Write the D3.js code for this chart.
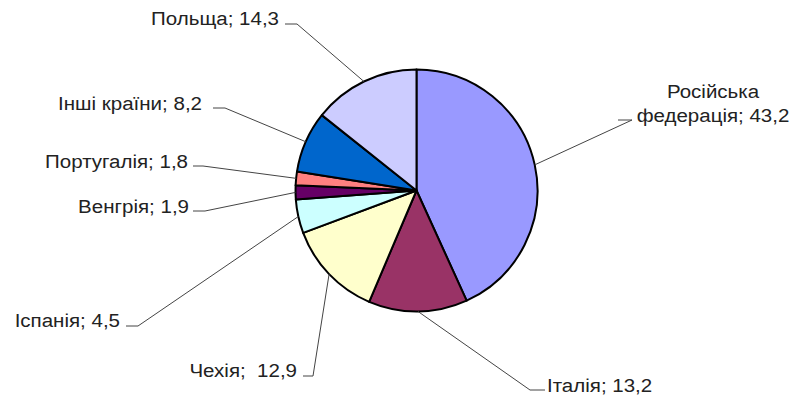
<!DOCTYPE html>
<html><head><meta charset="utf-8">
<script src="https://cdn.jsdelivr.net/npm/d3@7"></script>
<style>
html,body{margin:0;padding:0;background:#fff;}
svg{display:block;}
text{font-family:"Liberation Sans",Arial,sans-serif;font-size:19px;fill:#222;}
</style></head>
<body>
<svg id="chart" width="795" height="400"></svg>
<script>
// Data
const countries = ["Російська федерація","Італія","Чехія","Іспанія","Венгрія","Португалія","Інші країни","Польща"];
const values = [43.2, 13.2, 12.9, 4.5, 1.9, 1.8, 8.2, 14.3];
const labelTexts = [["Російська","федерація; 43,2"],["Італія; 13,2"],["Чехія;  12,9"],["Іспанія; 4,5"],["Венгрія; 1,9"],["Португалія; 1,8"],["Інші країни; 8,2"],["Польща; 14,3"]];
const colors = ["#9999FF","#993366","#FFFFCC","#CCFFFF","#660066","#FF8080","#0066CC","#CCCCFF"];

// Layout (label placement: elbow x,y, text anchor)
const labelLayout = [
  {ex:632, ey:120, hx:618, tx:713, ty:122, anchor:"middle"},
  {ex:530, ey:390, hx:545, tx:547, ty:392, anchor:"start"},
  {ex:313, ey:376, hx:303, tx:297, ty:377, anchor:"end"},
  {ex:138, ey:326, hx:126, tx:120, ty:327, anchor:"end"},
  {ex:205, ey:211, hx:193, tx:189, ty:213, anchor:"end"},
  {ex:203, ey:166, hx:193, tx:188, ty:168, anchor:"end"},
  {ex:225, ey:108, hx:213, tx:202, ty:110, anchor:"end"},
  {ex:297, ey:24,  hx:285, tx:279, ty:25,  anchor:"end"}
];

const cx = 416.5, cy = 190.5, R = 121;
const sx = 1.08;
const svg = d3.select("#chart");
const g = svg.append("g").attr("transform", `translate(${cx},${cy})`);

const data = countries.map((c,i)=>({name:c, value:values[i], color:colors[i], label:labelTexts[i], lay:labelLayout[i]}));
const pie = d3.pie().value(d=>d.value).sort(null);
const arcs = pie(data);
const arc = d3.arc().innerRadius(0).outerRadius(R);
const edge = d3.arc().innerRadius(R).outerRadius(R);

// leader lines
svg.selectAll("polyline.leader").data(arcs).join("polyline")
  .attr("class","leader")
  .attr("fill","none")
  .attr("stroke","#444")
  .attr("stroke-width",1)
  .attr("points", d=>{
    const p = edge.centroid(d);
    const L = d.data.lay;
    return `${cx + p[0]},${cy + p[1]} ${L.ex},${L.ey} ${L.hx},${L.ey}`;
  });

g.selectAll("path.slice").data(arcs).join("path")
  .attr("class","slice")
  .attr("d", arc)
  .attr("fill", d=>d.data.color)
  .attr("stroke","#000")
  .attr("stroke-width",2)
  .attr("stroke-linejoin","round");

// labels
arcs.forEach(d=>{
  const L = d.data.lay;
  const lines = d.data.label;
  const t = svg.append("g")
    .attr("transform", `translate(${L.tx},${L.ty}) scale(${sx},1)`)
    .append("text")
    .attr("x", 0).attr("y", 0)
    .attr("text-anchor", L.anchor)
    .attr("xml:space","preserve")
    .style("white-space","pre");
  if (lines.length===2){
    t.append("tspan").attr("x",0).attr("dy",-24).text(lines[0]);
    t.append("tspan").attr("x",0).attr("dy",24).text(lines[1]);
  } else {
    t.text(lines[0]);
  }
});
</script>
</body></html>
